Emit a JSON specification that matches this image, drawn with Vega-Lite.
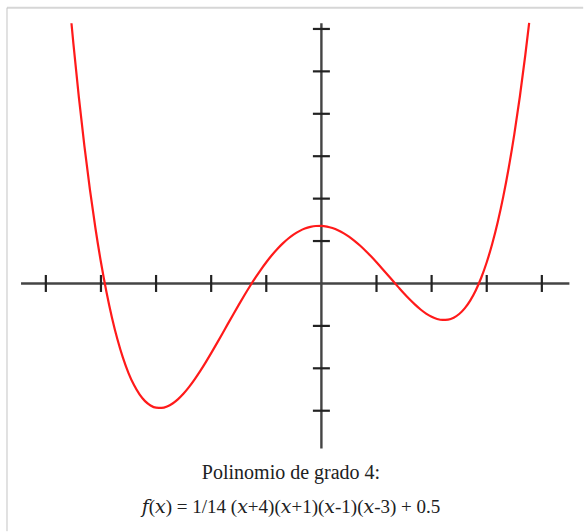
{
  "$schema": "https://vega.github.io/schema/vega-lite/v6.json",
  "autosize": {"type": "fit", "contains": "padding"},
  "width": 585,
  "height": 532,
  "padding": 0,
  "background": "white",
  "config": {"view": {"stroke": null}},
  "datasets": {
    "curve": [
      {"x": -4.535, "y": 6.134}, {"x": -4.5, "y": 5.656}, {"x": -4.4, "y": 4.382}, {"x": -4.3, "y": 3.236},
      {"x": -4.2, "y": 2.212}, {"x": -4.1, "y": 1.302}, {"x": -4.0, "y": 0.5}, {"x": -3.9, "y": -0.2},
      {"x": -3.8, "y": -0.806}, {"x": -3.7, "y": -1.322}, {"x": -3.6, "y": -1.755}, {"x": -3.5, "y": -2.112},
      {"x": -3.4, "y": -2.396}, {"x": -3.3, "y": -2.615}, {"x": -3.2, "y": -2.774}, {"x": -3.1, "y": -2.876},
      {"x": -3.0, "y": -2.929}, {"x": -2.9, "y": -2.935}, {"x": -2.8, "y": -2.9}, {"x": -2.7, "y": -2.829},
      {"x": -2.6, "y": -2.726}, {"x": -2.5, "y": -2.594}, {"x": -2.4, "y": -2.438}, {"x": -2.3, "y": -2.261},
      {"x": -2.2, "y": -2.067}, {"x": -2.1, "y": -1.86}, {"x": -2.0, "y": -1.643}, {"x": -1.9, "y": -1.418},
      {"x": -1.8, "y": -1.19}, {"x": -1.7, "y": -0.959}, {"x": -1.6, "y": -0.73}, {"x": -1.5, "y": -0.504},
      {"x": -1.4, "y": -0.284}, {"x": -1.3, "y": -0.072}, {"x": -1.2, "y": 0.13}, {"x": -1.1, "y": 0.322},
      {"x": -1.0, "y": 0.5}, {"x": -0.9, "y": 0.664}, {"x": -0.8, "y": 0.813}, {"x": -0.7, "y": 0.945},
      {"x": -0.6, "y": 1.06}, {"x": -0.5, "y": 1.156}, {"x": -0.4, "y": 1.234}, {"x": -0.3, "y": 1.294},
      {"x": -0.2, "y": 1.334}, {"x": -0.1, "y": 1.355}, {"x": 0.0, "y": 1.357}, {"x": 0.1, "y": 1.341},
      {"x": 0.2, "y": 1.306}, {"x": 0.3, "y": 1.255}, {"x": 0.4, "y": 1.186}, {"x": 0.5, "y": 1.103},
      {"x": 0.6, "y": 1.005}, {"x": 0.7, "y": 0.894}, {"x": 0.8, "y": 0.772}, {"x": 0.9, "y": 0.64},
      {"x": 1.0, "y": 0.5}, {"x": 1.1, "y": 0.355}, {"x": 1.2, "y": 0.206}, {"x": 1.3, "y": 0.056},
      {"x": 1.4, "y": -0.092}, {"x": 1.5, "y": -0.237}, {"x": 1.6, "y": -0.374}, {"x": 1.7, "y": -0.5},
      {"x": 1.8, "y": -0.614}, {"x": 1.9, "y": -0.71}, {"x": 2.0, "y": -0.786}, {"x": 2.1, "y": -0.837},
      {"x": 2.2, "y": -0.86}, {"x": 2.3, "y": -0.851}, {"x": 2.4, "y": -0.806}, {"x": 2.5, "y": -0.719},
      {"x": 2.6, "y": -0.586}, {"x": 2.7, "y": -0.403}, {"x": 2.8, "y": -0.164}, {"x": 2.9, "y": 0.135},
      {"x": 3.0, "y": 0.5}, {"x": 3.1, "y": 0.937}, {"x": 3.2, "y": 1.45}, {"x": 3.3, "y": 2.047},
      {"x": 3.4, "y": 2.733}, {"x": 3.5, "y": 3.513}, {"x": 3.6, "y": 4.396}, {"x": 3.7, "y": 5.386},
      {"x": 3.77, "y": 6.146}
    ],
    "axisLines": [
      {"x": -5.45, "x2": 4.5, "y": 0, "y2": 0},
      {"x": 0, "x2": 0, "y": -3.89, "y2": 6.134}
    ],
    "xTicks": [
      {"x": -5, "y": 0}, {"x": -4, "y": 0}, {"x": -3, "y": 0}, {"x": -2, "y": 0}, {"x": -1, "y": 0},
      {"x": 1, "y": 0}, {"x": 2, "y": 0}, {"x": 3, "y": 0}, {"x": 4, "y": 0}
    ],
    "yTicks": [
      {"x": 0, "y": -3}, {"x": 0, "y": -2}, {"x": 0, "y": -1}, {"x": 0, "y": 1}, {"x": 0, "y": 2},
      {"x": 0, "y": 3}, {"x": 0, "y": 4}, {"x": 0, "y": 5}, {"x": 0, "y": 6}
    ],
    "frameTop": [{"x": -5.705, "x2": 4.75, "y": 6.501, "y2": 6.501}],
    "frameLeft": [{"x": -5.705, "x2": -5.705, "y": -5.84, "y2": 6.501}],
    "caption": [
      {"row": 1, "label": "Polinomio de grado 4:", "x": -0.5515, "y": -4.612},
      {"row": 2, "label": "𝑓(𝑥) = 1/14 (𝑥+4)(𝑥+1)(𝑥-1)(𝑥-3) + 0.5", "x": -0.5515, "y": -5.41}
    ]
  },
  "encoding": {
    "x": {"field": "x", "type": "quantitative", "axis": null,
          "scale": {"domain": [-5.8318, 4.7468], "nice": false, "zero": false}},
    "y": {"field": "y", "type": "quantitative", "axis": null,
          "scale": {"domain": [-5.8353, 6.6824], "nice": false, "zero": false}}
  },
  "layer": [
    {
      "data": {"name": "frameTop"},
      "mark": {"type": "rule", "stroke": "#d6d6d6", "strokeWidth": 2},
      "encoding": {"x2": {"field": "x2"}, "y2": {"field": "y2"}}
    },
    {
      "data": {"name": "frameLeft"},
      "mark": {"type": "rule", "stroke": "#c4c4c4", "strokeWidth": 1},
      "encoding": {"x2": {"field": "x2"}, "y2": {"field": "y2"}}
    },
    {
      "data": {"name": "axisLines"},
      "mark": {"type": "rule", "stroke": "#444444", "strokeWidth": 2.4},
      "encoding": {"x2": {"field": "x2"}, "y2": {"field": "y2"}}
    },
    {
      "data": {"name": "xTicks"},
      "mark": {"type": "tick", "orient": "vertical", "size": 17, "thickness": 2.2, "color": "#222222", "opacity": 1},
      "encoding": {}
    },
    {
      "data": {"name": "yTicks"},
      "mark": {"type": "tick", "orient": "horizontal", "size": 17, "thickness": 2.2, "color": "#222222", "opacity": 1},
      "encoding": {}
    },
    {
      "data": {"name": "curve"},
      "mark": {"type": "line", "interpolate": "monotone", "stroke": "#ff1a1a", "strokeWidth": 2.2},
      "encoding": {"order": {"field": "x", "type": "quantitative"}}
    },
    {
      "data": {"name": "caption"},
      "transform": [{"filter": "datum.row === 1"}],
      "mark": {
        "type": "text",
        "font": "Liberation Serif, DejaVu Serif",
        "fontSize": 20,
        "align": "center",
        "baseline": "alphabetic",
        "color": "#202122"
      },
      "encoding": {"text": {"field": "label"}}
    },
    {
      "data": {"name": "caption"},
      "transform": [{"filter": "datum.row === 2"}],
      "mark": {
        "type": "text",
        "font": "Liberation Serif, DejaVu Serif",
        "fontSize": 19,
        "align": "center",
        "baseline": "alphabetic",
        "color": "#202122"
      },
      "encoding": {"text": {"field": "label"}}
    }
  ]
}
